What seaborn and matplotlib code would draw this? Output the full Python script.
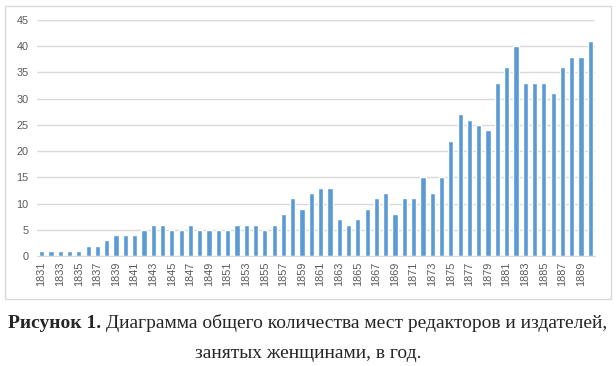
import matplotlib
matplotlib.use("Agg")
import matplotlib.pyplot as plt
import seaborn as sns
from matplotlib.patches import Rectangle

# data
years = list(range(1831, 1891))
places = [1, 1, 1, 1, 1, 2, 2, 3, 4, 4,
          4, 5, 6, 6, 5, 5, 6, 5, 5, 5,
          5, 6, 6, 6, 5, 6, 8, 11, 9, 12,
          13, 13, 7, 6, 7, 9, 11, 12, 8, 11,
          11, 15, 12, 15, 22, 27, 26, 25, 24, 33,
          36, 40, 33, 33, 33, 31, 36, 38, 38, 41]
year_labels = [str(y) for y in years]
caption_bold = "Рисунок 1."
caption_rest = " Диаграмма общего количества мест редакторов и издателей,"
caption_line2 = "занятых женщинами, в год."

sns.set_style("white")
plt.rcParams['font.family'] = ['Liberation Sans', 'DejaVu Sans']

fig = plt.figure(figsize=(6.16, 3.66), dpi=100)
W, H = 616, 366
ax = fig.add_axes([37 / W, 1 - 256 / H, (595 - 37) / W, (256 - 20) / H])
ax.set_axisbelow(True)

sns.barplot(x=year_labels, y=places, color="#5B9BD5", width=0.55,
            saturation=1, ax=ax)

ax.set_ylim(0, 45)
ax.set_yticks(range(0, 46, 5))
ax.set_xlim(-0.5, len(years) - 0.5)
ax.set_xticks(range(0, len(years), 2))
ax.set_xticklabels(year_labels[::2], rotation=90)
ax.yaxis.grid(True, color="#D9D9D9", linewidth=1)
ax.xaxis.grid(False)
ax.set_xlabel("")
ax.set_ylabel("")
ax.tick_params(axis="both", length=0, labelsize=7.8, colors="#595959")
ax.tick_params(axis="x", pad=4)
ax.tick_params(axis="y", pad=6)
for side in ["top", "left", "right"]:
    ax.spines[side].set_visible(False)
ax.spines["bottom"].set_color("#D9D9D9")

# outer chart border
fig.patches.append(Rectangle((5 / W, 1 - 299 / H), (611 - 5) / W, (299 - 6) / H,
                             transform=fig.transFigure, fill=False,
                             edgecolor="#D9D9D9", linewidth=1))

# caption: bold prefix + regular text, centred together
serif = ['Liberation Serif', 'DejaVu Serif']
fs = 14
renderer = fig.canvas.get_renderer()
tb = fig.text(0, 0, caption_bold, family=serif, fontsize=fs, fontweight="bold")
tr = fig.text(0, 0, caption_rest, family=serif, fontsize=fs)
wb = tb.get_window_extent(renderer).width
wr = tr.get_window_extent(renderer).width
x0 = (W - wb - wr) / 2
y1 = 1 - 328 / H
tb.set_position((x0 / W, y1))
tr.set_position(((x0 + wb) / W, y1))
fig.text(0.5, 1 - 358 / H, caption_line2, family=serif, fontsize=fs, ha="center")

fig.savefig("out.png", dpi=100)
